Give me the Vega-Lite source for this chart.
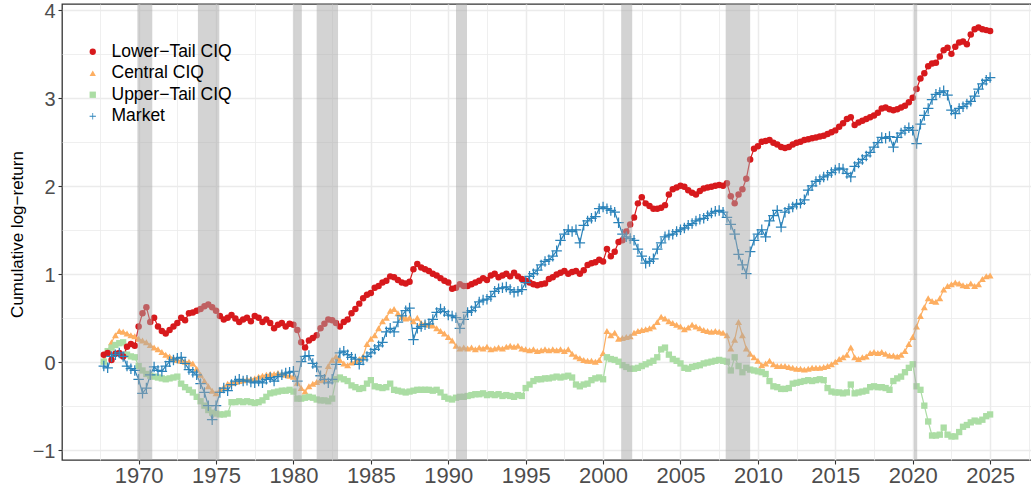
{
  "$schema": "https://vega.github.io/schema/vega-lite/v6.json",
  "width": 971,
  "height": 456,
  "autosize": "none",
  "padding": {"left": 62, "top": 4, "right": 0, "bottom": 29},
  "background": "white",
  "datasets": {
    "s": [
      {"t":1967.75,"L":0.08,"C":0.02,"U":0.0,"M":-0.05},
      {"t":1968.0,"L":0.10,"C":0.12,"U":0.12,"M":-0.07},
      {"t":1968.25,"L":0.02,"C":0.22,"U":0.16,"M":0.06},
      {"t":1968.5,"L":0.09,"C":0.30,"U":0.19,"M":0.08},
      {"t":1968.75,"L":0.10,"C":0.35,"U":0.21,"M":0.10},
      {"t":1969.0,"L":0.06,"C":0.34,"U":0.22,"M":0.06},
      {"t":1969.25,"L":0.17,"C":0.32,"U":0.08,"M":-0.05},
      {"t":1969.5,"L":0.20,"C":0.30,"U":0.06,"M":-0.08},
      {"t":1969.75,"L":0.18,"C":0.29,"U":0.05,"M":-0.10},
      {"t":1970.0,"L":0.40,"C":0.26,"U":-0.05,"M":-0.20},
      {"t":1970.25,"L":0.55,"C":0.24,"U":-0.10,"M":-0.36},
      {"t":1970.5,"L":0.62,"C":0.22,"U":-0.14,"M":-0.30},
      {"t":1970.75,"L":0.45,"C":0.19,"U":-0.16,"M":-0.15},
      {"t":1971.0,"L":0.50,"C":0.16,"U":-0.17,"M":-0.06},
      {"t":1971.25,"L":0.40,"C":0.14,"U":-0.18,"M":-0.10},
      {"t":1971.5,"L":0.35,"C":0.11,"U":-0.19,"M":-0.11},
      {"t":1971.75,"L":0.32,"C":0.08,"U":-0.20,"M":-0.05},
      {"t":1972.0,"L":0.36,"C":0.06,"U":-0.19,"M":0.0},
      {"t":1972.25,"L":0.40,"C":0.04,"U":-0.18,"M":0.02},
      {"t":1972.5,"L":0.44,"C":0.02,"U":-0.17,"M":0.04},
      {"t":1972.75,"L":0.50,"C":0.01,"U":-0.25,"M":0.05},
      {"t":1973.0,"L":0.47,"C":0.0,"U":-0.29,"M":-0.02},
      {"t":1973.25,"L":0.55,"C":0.0,"U":-0.32,"M":-0.09},
      {"t":1973.5,"L":0.56,"C":-0.02,"U":-0.35,"M":-0.12},
      {"t":1973.75,"L":0.58,"C":-0.08,"U":-0.40,"M":-0.15},
      {"t":1974.0,"L":0.60,"C":-0.15,"U":-0.45,"M":-0.25},
      {"t":1974.25,"L":0.63,"C":-0.22,"U":-0.50,"M":-0.35},
      {"t":1974.5,"L":0.65,"C":-0.28,"U":-0.55,"M":-0.50},
      {"t":1974.75,"L":0.62,"C":-0.33,"U":-0.58,"M":-0.66},
      {"t":1975.0,"L":0.58,"C":-0.36,"U":-0.59,"M":-0.50},
      {"t":1975.25,"L":0.52,"C":-0.32,"U":-0.60,"M":-0.35},
      {"t":1975.5,"L":0.48,"C":-0.29,"U":-0.60,"M":-0.30},
      {"t":1975.75,"L":0.50,"C":-0.25,"U":-0.59,"M":-0.33},
      {"t":1976.0,"L":0.53,"C":-0.24,"U":-0.46,"M":-0.26},
      {"t":1976.25,"L":0.49,"C":-0.23,"U":-0.46,"M":-0.22},
      {"t":1976.5,"L":0.45,"C":-0.22,"U":-0.45,"M":-0.20},
      {"t":1976.75,"L":0.48,"C":-0.21,"U":-0.46,"M":-0.22},
      {"t":1977.0,"L":0.50,"C":-0.20,"U":-0.45,"M":-0.21},
      {"t":1977.25,"L":0.46,"C":-0.20,"U":-0.46,"M":-0.23},
      {"t":1977.5,"L":0.52,"C":-0.19,"U":-0.47,"M":-0.24},
      {"t":1977.75,"L":0.50,"C":-0.17,"U":-0.46,"M":-0.22},
      {"t":1978.0,"L":0.45,"C":-0.16,"U":-0.44,"M":-0.24},
      {"t":1978.25,"L":0.48,"C":-0.15,"U":-0.40,"M":-0.20},
      {"t":1978.5,"L":0.44,"C":-0.14,"U":-0.36,"M":-0.18},
      {"t":1978.75,"L":0.38,"C":-0.14,"U":-0.35,"M":-0.22},
      {"t":1979.0,"L":0.42,"C":-0.13,"U":-0.34,"M":-0.17},
      {"t":1979.25,"L":0.44,"C":-0.14,"U":-0.33,"M":-0.15},
      {"t":1979.5,"L":0.40,"C":-0.15,"U":-0.33,"M":-0.13},
      {"t":1979.75,"L":0.43,"C":-0.16,"U":-0.32,"M":-0.12},
      {"t":1980.0,"L":0.42,"C":-0.17,"U":-0.34,"M":-0.11},
      {"t":1980.25,"L":0.36,"C":-0.24,"U":-0.42,"M":-0.22},
      {"t":1980.5,"L":0.22,"C":-0.30,"U":-0.42,"M":0.0},
      {"t":1980.75,"L":0.16,"C":-0.34,"U":-0.41,"M":0.06},
      {"t":1981.0,"L":0.24,"C":-0.28,"U":-0.40,"M":0.07},
      {"t":1981.25,"L":0.27,"C":-0.25,"U":-0.41,"M":-0.02},
      {"t":1981.5,"L":0.30,"C":-0.23,"U":-0.43,"M":-0.06},
      {"t":1981.75,"L":0.38,"C":-0.21,"U":-0.44,"M":-0.16},
      {"t":1982.0,"L":0.43,"C":-0.20,"U":-0.44,"M":-0.20},
      {"t":1982.25,"L":0.48,"C":-0.05,"U":-0.45,"M":-0.24},
      {"t":1982.5,"L":0.47,"C":0.02,"U":-0.42,"M":-0.20},
      {"t":1982.75,"L":0.44,"C":0.06,"U":-0.20,"M":-0.03},
      {"t":1983.0,"L":0.40,"C":0.02,"U":-0.18,"M":0.10},
      {"t":1983.25,"L":0.45,"C":-0.02,"U":-0.20,"M":0.12},
      {"t":1983.5,"L":0.48,"C":-0.04,"U":-0.22,"M":0.08},
      {"t":1983.75,"L":0.55,"C":-0.01,"U":-0.27,"M":0.05},
      {"t":1984.0,"L":0.60,"C":0.0,"U":-0.29,"M":0.03},
      {"t":1984.25,"L":0.66,"C":0.03,"U":-0.31,"M":-0.03},
      {"t":1984.5,"L":0.72,"C":0.06,"U":-0.30,"M":0.02},
      {"t":1984.75,"L":0.76,"C":0.20,"U":-0.25,"M":0.06},
      {"t":1985.0,"L":0.78,"C":0.26,"U":-0.21,"M":0.10},
      {"t":1985.25,"L":0.84,"C":0.30,"U":-0.28,"M":0.14},
      {"t":1985.5,"L":0.86,"C":0.38,"U":-0.29,"M":0.18},
      {"t":1985.75,"L":0.90,"C":0.46,"U":-0.30,"M":0.22},
      {"t":1986.0,"L":0.92,"C":0.50,"U":-0.29,"M":0.34},
      {"t":1986.25,"L":0.97,"C":0.58,"U":-0.25,"M":0.38},
      {"t":1986.5,"L":0.96,"C":0.60,"U":-0.32,"M":0.34},
      {"t":1986.75,"L":0.93,"C":0.55,"U":-0.33,"M":0.45},
      {"t":1987.0,"L":0.90,"C":0.51,"U":-0.34,"M":0.52},
      {"t":1987.25,"L":0.89,"C":0.49,"U":-0.35,"M":0.58},
      {"t":1987.5,"L":0.91,"C":0.50,"U":-0.34,"M":0.61},
      {"t":1987.75,"L":1.05,"C":0.46,"U":-0.33,"M":0.25},
      {"t":1988.0,"L":1.11,"C":0.50,"U":-0.32,"M":0.38},
      {"t":1988.25,"L":1.07,"C":0.44,"U":-0.32,"M":0.40},
      {"t":1988.5,"L":1.05,"C":0.43,"U":-0.32,"M":0.42},
      {"t":1988.75,"L":1.03,"C":0.42,"U":-0.32,"M":0.43},
      {"t":1989.0,"L":1.00,"C":0.41,"U":-0.33,"M":0.48},
      {"t":1989.25,"L":0.98,"C":0.38,"U":-0.32,"M":0.56},
      {"t":1989.5,"L":0.95,"C":0.35,"U":-0.35,"M":0.60},
      {"t":1989.75,"L":0.92,"C":0.32,"U":-0.40,"M":0.57},
      {"t":1990.0,"L":0.90,"C":0.28,"U":-0.42,"M":0.53},
      {"t":1990.25,"L":0.83,"C":0.24,"U":-0.43,"M":0.52},
      {"t":1990.5,"L":0.84,"C":0.18,"U":-0.41,"M":0.50},
      {"t":1990.75,"L":0.88,"C":0.15,"U":-0.40,"M":0.38},
      {"t":1991.0,"L":0.86,"C":0.16,"U":-0.40,"M":0.48},
      {"t":1991.25,"L":0.86,"C":0.15,"U":-0.39,"M":0.56},
      {"t":1991.5,"L":0.88,"C":0.16,"U":-0.38,"M":0.58},
      {"t":1991.75,"L":0.90,"C":0.14,"U":-0.37,"M":0.62},
      {"t":1992.0,"L":0.92,"C":0.16,"U":-0.37,"M":0.68},
      {"t":1992.25,"L":0.95,"C":0.15,"U":-0.36,"M":0.70},
      {"t":1992.5,"L":0.93,"C":0.17,"U":-0.38,"M":0.71},
      {"t":1992.75,"L":0.98,"C":0.14,"U":-0.37,"M":0.74},
      {"t":1993.0,"L":1.00,"C":0.15,"U":-0.38,"M":0.80},
      {"t":1993.25,"L":0.96,"C":0.16,"U":-0.37,"M":0.83},
      {"t":1993.5,"L":0.98,"C":0.15,"U":-0.39,"M":0.84},
      {"t":1993.75,"L":1.00,"C":0.17,"U":-0.38,"M":0.85},
      {"t":1994.0,"L":0.97,"C":0.18,"U":-0.39,"M":0.82},
      {"t":1994.25,"L":1.01,"C":0.17,"U":-0.40,"M":0.79},
      {"t":1994.5,"L":0.97,"C":0.18,"U":-0.38,"M":0.80},
      {"t":1994.75,"L":0.94,"C":0.15,"U":-0.39,"M":0.82},
      {"t":1995.0,"L":0.92,"C":0.14,"U":-0.30,"M":0.90},
      {"t":1995.25,"L":0.90,"C":0.13,"U":-0.26,"M":0.97},
      {"t":1995.5,"L":0.88,"C":0.14,"U":-0.22,"M":1.00},
      {"t":1995.75,"L":0.87,"C":0.12,"U":-0.20,"M":1.04},
      {"t":1996.0,"L":0.88,"C":0.13,"U":-0.20,"M":1.10},
      {"t":1996.25,"L":0.89,"C":0.14,"U":-0.19,"M":1.14},
      {"t":1996.5,"L":0.94,"C":0.13,"U":-0.19,"M":1.16},
      {"t":1996.75,"L":0.96,"C":0.14,"U":-0.18,"M":1.20},
      {"t":1997.0,"L":0.99,"C":0.13,"U":-0.17,"M":1.26},
      {"t":1997.25,"L":1.01,"C":0.14,"U":-0.18,"M":1.38},
      {"t":1997.5,"L":1.03,"C":0.12,"U":-0.17,"M":1.45},
      {"t":1997.75,"L":1.00,"C":0.14,"U":-0.16,"M":1.50},
      {"t":1998.0,"L":1.02,"C":0.09,"U":-0.18,"M":1.48},
      {"t":1998.25,"L":1.03,"C":0.06,"U":-0.26,"M":1.50},
      {"t":1998.5,"L":1.00,"C":0.04,"U":-0.28,"M":1.35},
      {"t":1998.75,"L":1.04,"C":0.02,"U":-0.26,"M":1.55},
      {"t":1999.0,"L":1.10,"C":0.01,"U":-0.25,"M":1.60},
      {"t":1999.25,"L":1.12,"C":0.01,"U":-0.21,"M":1.63},
      {"t":1999.5,"L":1.13,"C":0.00,"U":-0.19,"M":1.65},
      {"t":1999.75,"L":1.16,"C":0.02,"U":-0.18,"M":1.74},
      {"t":2000.0,"L":1.14,"C":0.10,"U":-0.20,"M":1.76},
      {"t":2000.25,"L":1.28,"C":0.35,"U":0.05,"M":1.74},
      {"t":2000.5,"L":1.20,"C":0.30,"U":0.03,"M":1.72},
      {"t":2000.75,"L":1.25,"C":0.33,"U":0.02,"M":1.70},
      {"t":2001.0,"L":1.36,"C":0.26,"U":0.0,"M":1.58},
      {"t":2001.25,"L":1.38,"C":0.27,"U":-0.04,"M":1.45},
      {"t":2001.5,"L":1.48,"C":0.28,"U":-0.06,"M":1.42},
      {"t":2001.75,"L":1.56,"C":0.29,"U":-0.08,"M":1.40},
      {"t":2002.0,"L":1.64,"C":0.33,"U":-0.08,"M":1.38},
      {"t":2002.25,"L":1.80,"C":0.35,"U":-0.07,"M":1.28},
      {"t":2002.5,"L":1.87,"C":0.36,"U":-0.05,"M":1.20},
      {"t":2002.75,"L":1.80,"C":0.37,"U":-0.03,"M":1.12},
      {"t":2003.0,"L":1.77,"C":0.38,"U":-0.01,"M":1.14},
      {"t":2003.25,"L":1.74,"C":0.40,"U":0.01,"M":1.17},
      {"t":2003.5,"L":1.74,"C":0.45,"U":0.05,"M":1.28},
      {"t":2003.75,"L":1.75,"C":0.51,"U":0.14,"M":1.35},
      {"t":2004.0,"L":1.78,"C":0.49,"U":0.16,"M":1.42},
      {"t":2004.25,"L":1.90,"C":0.46,"U":0.08,"M":1.44},
      {"t":2004.5,"L":1.96,"C":0.44,"U":0.03,"M":1.45},
      {"t":2004.75,"L":1.98,"C":0.42,"U":0.01,"M":1.48},
      {"t":2005.0,"L":2.00,"C":0.40,"U":-0.02,"M":1.50},
      {"t":2005.25,"L":1.99,"C":0.37,"U":-0.07,"M":1.52},
      {"t":2005.5,"L":1.95,"C":0.39,"U":-0.08,"M":1.55},
      {"t":2005.75,"L":1.92,"C":0.42,"U":-0.06,"M":1.57},
      {"t":2006.0,"L":1.90,"C":0.40,"U":-0.05,"M":1.60},
      {"t":2006.25,"L":1.94,"C":0.38,"U":-0.04,"M":1.62},
      {"t":2006.5,"L":1.97,"C":0.36,"U":-0.02,"M":1.63},
      {"t":2006.75,"L":1.98,"C":0.35,"U":-0.01,"M":1.66},
      {"t":2007.0,"L":1.99,"C":0.34,"U":0.0,"M":1.69},
      {"t":2007.25,"L":2.00,"C":0.35,"U":0.01,"M":1.71},
      {"t":2007.5,"L":2.01,"C":0.34,"U":0.02,"M":1.72},
      {"t":2007.75,"L":2.00,"C":0.33,"U":0.01,"M":1.70},
      {"t":2008.0,"L":2.03,"C":0.30,"U":0.0,"M":1.64},
      {"t":2008.25,"L":1.88,"C":0.15,"U":-0.10,"M":1.56},
      {"t":2008.5,"L":1.80,"C":0.25,"U":0.05,"M":1.45},
      {"t":2008.75,"L":1.90,"C":0.45,"U":-0.05,"M":1.22},
      {"t":2009.0,"L":1.96,"C":0.30,"U":-0.12,"M":1.10},
      {"t":2009.25,"L":2.08,"C":0.15,"U":-0.07,"M":1.00},
      {"t":2009.5,"L":2.30,"C":0.09,"U":-0.09,"M":1.25},
      {"t":2009.75,"L":2.42,"C":0.05,"U":-0.10,"M":1.38},
      {"t":2010.0,"L":2.45,"C":0.01,"U":-0.11,"M":1.45},
      {"t":2010.25,"L":2.50,"C":-0.04,"U":-0.12,"M":1.50},
      {"t":2010.5,"L":2.51,"C":-0.02,"U":-0.14,"M":1.42},
      {"t":2010.75,"L":2.52,"C":0.01,"U":-0.22,"M":1.60},
      {"t":2011.0,"L":2.49,"C":-0.03,"U":-0.28,"M":1.66},
      {"t":2011.25,"L":2.47,"C":-0.05,"U":-0.29,"M":1.72},
      {"t":2011.5,"L":2.44,"C":-0.05,"U":-0.31,"M":1.53},
      {"t":2011.75,"L":2.43,"C":-0.05,"U":-0.31,"M":1.70},
      {"t":2012.0,"L":2.44,"C":-0.06,"U":-0.30,"M":1.74},
      {"t":2012.25,"L":2.47,"C":-0.07,"U":-0.25,"M":1.76},
      {"t":2012.5,"L":2.49,"C":-0.08,"U":-0.24,"M":1.79},
      {"t":2012.75,"L":2.50,"C":-0.08,"U":-0.23,"M":1.80},
      {"t":2013.0,"L":2.52,"C":-0.09,"U":-0.22,"M":1.84},
      {"t":2013.25,"L":2.53,"C":-0.08,"U":-0.21,"M":1.95},
      {"t":2013.5,"L":2.54,"C":-0.07,"U":-0.22,"M":2.00},
      {"t":2013.75,"L":2.55,"C":-0.07,"U":-0.21,"M":2.05},
      {"t":2014.0,"L":2.56,"C":-0.07,"U":-0.20,"M":2.07},
      {"t":2014.25,"L":2.57,"C":-0.06,"U":-0.21,"M":2.10},
      {"t":2014.5,"L":2.59,"C":-0.05,"U":-0.30,"M":2.12},
      {"t":2014.75,"L":2.61,"C":-0.03,"U":-0.34,"M":2.15},
      {"t":2015.0,"L":2.63,"C":0.0,"U":-0.35,"M":2.18},
      {"t":2015.25,"L":2.67,"C":0.03,"U":-0.35,"M":2.20},
      {"t":2015.5,"L":2.71,"C":0.05,"U":-0.36,"M":2.19},
      {"t":2015.75,"L":2.76,"C":0.08,"U":-0.35,"M":2.14},
      {"t":2016.0,"L":2.78,"C":0.16,"U":-0.26,"M":2.10},
      {"t":2016.25,"L":2.69,"C":0.05,"U":-0.36,"M":2.22},
      {"t":2016.5,"L":2.72,"C":0.03,"U":-0.35,"M":2.26},
      {"t":2016.75,"L":2.74,"C":0.05,"U":-0.34,"M":2.30},
      {"t":2017.0,"L":2.76,"C":0.06,"U":-0.33,"M":2.34},
      {"t":2017.25,"L":2.78,"C":0.10,"U":-0.29,"M":2.38},
      {"t":2017.5,"L":2.80,"C":0.11,"U":-0.28,"M":2.44},
      {"t":2017.75,"L":2.83,"C":0.10,"U":-0.29,"M":2.49},
      {"t":2018.0,"L":2.88,"C":0.11,"U":-0.29,"M":2.55},
      {"t":2018.25,"L":2.89,"C":0.09,"U":-0.30,"M":2.54},
      {"t":2018.5,"L":2.87,"C":0.07,"U":-0.32,"M":2.56},
      {"t":2018.75,"L":2.86,"C":0.07,"U":-0.22,"M":2.44},
      {"t":2019.0,"L":2.87,"C":0.06,"U":-0.19,"M":2.55},
      {"t":2019.25,"L":2.89,"C":0.08,"U":-0.17,"M":2.60},
      {"t":2019.5,"L":2.91,"C":0.12,"U":-0.12,"M":2.63},
      {"t":2019.75,"L":2.95,"C":0.20,"U":-0.07,"M":2.66},
      {"t":2020.0,"L":3.00,"C":0.28,"U":-0.03,"M":2.63},
      {"t":2020.25,"L":3.10,"C":0.40,"U":-0.28,"M":2.48},
      {"t":2020.5,"L":3.22,"C":0.52,"U":-0.32,"M":2.70},
      {"t":2020.75,"L":3.28,"C":0.62,"U":-0.50,"M":2.80},
      {"t":2021.0,"L":3.36,"C":0.72,"U":-0.68,"M":2.88},
      {"t":2021.25,"L":3.39,"C":0.69,"U":-0.84,"M":2.98},
      {"t":2021.5,"L":3.40,"C":0.68,"U":-0.84,"M":3.04},
      {"t":2021.75,"L":3.47,"C":0.72,"U":-0.83,"M":3.06},
      {"t":2022.0,"L":3.54,"C":0.82,"U":-0.75,"M":3.08},
      {"t":2022.25,"L":3.57,"C":0.86,"U":-0.83,"M":3.03},
      {"t":2022.5,"L":3.50,"C":0.88,"U":-0.85,"M":2.86},
      {"t":2022.75,"L":3.58,"C":0.90,"U":-0.85,"M":2.82},
      {"t":2023.0,"L":3.63,"C":0.89,"U":-0.80,"M":2.88},
      {"t":2023.25,"L":3.64,"C":0.87,"U":-0.74,"M":2.90},
      {"t":2023.5,"L":3.61,"C":0.86,"U":-0.72,"M":2.93},
      {"t":2023.75,"L":3.72,"C":0.89,"U":-0.69,"M":2.96},
      {"t":2024.0,"L":3.78,"C":0.86,"U":-0.67,"M":3.02},
      {"t":2024.25,"L":3.80,"C":0.88,"U":-0.68,"M":3.10},
      {"t":2024.5,"L":3.78,"C":0.94,"U":-0.66,"M":3.16},
      {"t":2024.75,"L":3.77,"C":0.97,"U":-0.62,"M":3.20},
      {"t":2025.0,"L":3.76,"C":0.98,"U":-0.60,"M":3.23}
    ],
    "rec": [
      {"start":1969.92,"end":1970.88},
      {"start":1973.83,"end":1975.21},
      {"start":1980.0,"end":1980.54},
      {"start":1981.5,"end":1982.88},
      {"start":1990.5,"end":1991.21},
      {"start":2001.17,"end":2001.88},
      {"start":2007.92,"end":2009.5},
      {"start":2020.08,"end":2020.29}
    ]
  },
  "encoding": {
    "x": {
      "type": "quantitative",
      "scale": {"domain": [1965.05, 2027.77], "nice": false, "zero": false},
      "axis": {
        "title": null,
        "values": [1967.5,1970,1972.5,1975,1977.5,1980,1982.5,1985,1987.5,1990,1992.5,1995,1997.5,2000,2002.5,2005,2007.5,2010,2012.5,2015,2017.5,2020,2022.5,2025,2027.5],
        "labelExpr": "datum.value % 5 == 0 ? format(datum.value, 'd') : ''",
        "tickOpacity": {"condition": {"test": "datum.value % 5 != 0", "value": 0}, "value": 1},
        "gridWidth": {"condition": {"test": "datum.value % 5 != 0", "value": 0.8}, "value": 1.5}
      }
    },
    "y": {
      "type": "quantitative",
      "scale": {"domain": [-1.118, 4.067], "nice": false, "zero": false},
      "axis": {
        "title": "Cumulative log\u2212return",
        "values": [-1,-0.5,0,0.5,1,1.5,2,2.5,3,3.5,4],
        "labelExpr": "datum.value % 1 == 0 ? replace(format(datum.value, 'd'), '-', '\u2212') : ''",
        "tickOpacity": {"condition": {"test": "datum.value % 1 != 0", "value": 0}, "value": 1},
        "gridWidth": {"condition": {"test": "datum.value % 1 != 0", "value": 0.8}, "value": 1.5},
        "labelFontSize": 20,
        "labelOffset": 2,
        "titleX": -45,
        "titleY": 230,
        "titleAlign": "center",
        "titleBaseline": "middle",
        "titleAngle": -90
      }
    }
  },
  "layer": [
    {"data": {"name": "s"}, "mark": {"type": "line", "strokeWidth": 1.2, "color": "#FDAE61"}, "encoding": {"x": {"field": "t"}, "y": {"field": "C"}}},
    {"data": {"name": "s"}, "mark": {"type": "line", "strokeWidth": 1.2, "color": "#ABDDA4"}, "encoding": {"x": {"field": "t"}, "y": {"field": "U"}}},
    {"data": {"name": "s"}, "mark": {"type": "line", "strokeWidth": 1.2, "color": "#D7191C"}, "encoding": {"x": {"field": "t"}, "y": {"field": "L"}}},
    {"data": {"name": "s"}, "mark": {"type": "line", "strokeWidth": 1.2, "color": "#2B83BA"}, "encoding": {"x": {"field": "t"}, "y": {"field": "M"}}},
    {
      "data": {"name": "s"},
      "mark": {"type": "point", "filled": true, "opacity": 1, "size": 48},
      "encoding": {
        "x": {"field": "t"}, "y": {"field": "C"},
        "color": {"datum": "Central CIQ", "type": "nominal", "scale": {"domain": ["Lower\u2212Tail CIQ","Central CIQ","Upper\u2212Tail CIQ","Market"], "range": ["#D7191C","#FDAE61","#ABDDA4","#2B83BA"]}, "legend": {"title": null}},
        "shape": {"datum": "Central CIQ", "type": "nominal", "scale": {"domain": ["Lower\u2212Tail CIQ","Central CIQ","Upper\u2212Tail CIQ","Market"], "range": ["circle","triangle-up","square","M-1,-0.12H-0.12V-1H0.12V-0.12H1V0.12H0.12V1H-0.12V0.12H-1Z"]}, "legend": {"title": null}}
      }
    },
    {
      "data": {"name": "s"},
      "mark": {"type": "point", "filled": true, "opacity": 1, "size": 40},
      "encoding": {
        "x": {"field": "t"}, "y": {"field": "U"},
        "color": {"datum": "Upper\u2212Tail CIQ", "type": "nominal"},
        "shape": {"datum": "Upper\u2212Tail CIQ", "type": "nominal"}
      }
    },
    {
      "data": {"name": "s"},
      "mark": {"type": "point", "filled": true, "opacity": 1, "size": 42},
      "encoding": {
        "x": {"field": "t"}, "y": {"field": "L"},
        "color": {"datum": "Lower\u2212Tail CIQ", "type": "nominal"},
        "shape": {"datum": "Lower\u2212Tail CIQ", "type": "nominal"}
      }
    },
    {
      "data": {"name": "s"},
      "mark": {"type": "point", "filled": true, "opacity": 1, "size": 110},
      "encoding": {
        "x": {"field": "t"}, "y": {"field": "M"},
        "color": {"datum": "Market", "type": "nominal"},
        "shape": {"datum": "Market", "type": "nominal"}
      }
    },
    {
      "data": {"name": "rec"},
      "mark": {"type": "rect", "color": "#a8a8a8", "opacity": 0.5},
      "encoding": {"x": {"field": "start"}, "x2": {"field": "end"}}
    }
  ],
  "config": {
    "font": "Liberation Sans",
    "view": {"stroke": "#333333", "strokeWidth": 1.3},
    "axis": {
      "domain": false,
      "grid": true,
      "gridColor": "#EBEBEB",
      "tickColor": "#333333",
      "tickSize": 4,
      "tickWidth": 1.1,
      "labelFont": "Liberation Sans",
      "labelFontSize": 22,
      "labelColor": "#4D4D4D",
      "titleFont": "Liberation Sans",
      "titleFontSize": 17,
      "titleFontWeight": "normal",
      "titleColor": "#000000"
    },
    "axisX": {"labelPadding": 1, "labelFlush": false, "labelOverlap": false},
    "axisY": {"labelPadding": 3, "labelOverlap": false},
    "legend": {
      "orient": "none",
      "legendX": 22,
      "legendY": 39,
      "direction": "vertical",
      "labelFont": "Liberation Sans",
      "labelFontSize": 17.5,
      "labelColor": "#000000",
      "symbolSize": 40,
      "rowPadding": 2.5,
      "labelOffset": 10,
      "padding": 0
    }
  }
}
